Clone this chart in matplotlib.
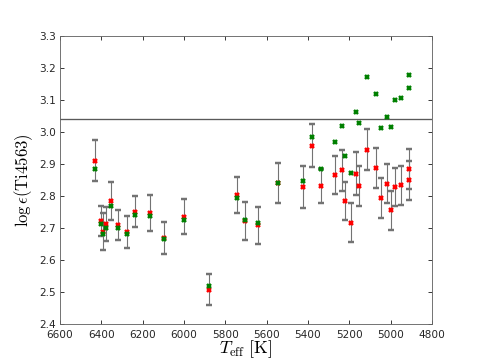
import matplotlib
matplotlib.use('Agg')
import matplotlib.pyplot as plt

# effective temperatures [K]
teff = [6431, 6403, 6392, 6379, 6353, 6321, 6276, 6237, 6166, 6098,
        6001, 5879, 5745, 5705, 5643, 5544, 5426, 5379, 5339, 5269,
        5234, 5221, 5193, 5166, 5153, 5113, 5073, 5048, 5019, 4998,
        4977, 4950, 4913, 4913]
# red series with error bars
ti_red = [2.910, 2.722, 2.688, 2.712, 2.784, 2.708, 2.688, 2.751, 2.746, 2.669,
          2.735, 2.507, 2.803, 2.722, 2.709, 2.840, 2.828, 2.957, 2.831, 2.865,
          2.881, 2.784, 2.717, 2.870, 2.832, 2.945, 2.888, 2.793, 2.839, 2.756,
          2.829, 2.833, 2.885, 2.849]
ti_err = [0.064, 0.046, 0.058, 0.054, 0.059, 0.047, 0.049, 0.048, 0.056, 0.050,
          0.055, 0.049, 0.055, 0.058, 0.058, 0.062, 0.066, 0.067, 0.053, 0.060,
          0.064, 0.060, 0.061, 0.068, 0.062, 0.064, 0.062, 0.063, 0.062, 0.061,
          0.060, 0.061, 0.062, 0.061]
# green series
ti_green = [2.885, 2.713, 2.680, 2.701, 2.770, 2.699, 2.681, 2.742, 2.737, 2.666,
            2.726, 2.518, 2.795, 2.724, 2.716, 2.840, 2.847, 2.985, 2.883, 2.969,
            3.019, 2.925, 2.873, 3.062, 3.029, 3.171, 3.118, 3.013, 3.048, 3.017,
            3.099, 3.107, 3.177, 3.137]
ref_level = 3.04

plt.rcParams['mathtext.fontset'] = 'cm'
plt.rcParams['xtick.direction'] = 'in'
plt.rcParams['ytick.direction'] = 'in'
plt.rcParams['xtick.top'] = True
plt.rcParams['ytick.right'] = True

fig = plt.figure(figsize=(6, 4.5), dpi=80)
ax = fig.add_axes([0.125, 0.1, 0.775, 0.8])

ax.errorbar(teff, ti_red, yerr=ti_err, fmt='x', color='red', ms=4, mew=2.2,
            ecolor='0.45', elinewidth=1, capsize=3, capthick=1, zorder=2)
ax.plot(teff, ti_green, 'x', color='green', ms=4, mew=2.2, zorder=3)
ax.axhline(ref_level, color='0.35', lw=1.2, zorder=1)

ax.set_xlim(6600, 4800)
ax.set_ylim(2.4, 3.3)
ax.set_xticks(range(6600, 4799, -200))
ax.set_yticks([2.4 + 0.1 * i for i in range(10)])
ax.tick_params(labelsize=9.5, colors='0.15', length=4)
ax.tick_params(axis='x', pad=5)
for s in ax.spines.values():
    s.set_color('0.4')

ax.set_xlabel(r'$T_{\rm eff}\ [{\rm K}]$', fontsize=16, labelpad=-1)
ax.set_ylabel(r'$\log\epsilon({\rm Ti4563})$', fontsize=15)

fig.savefig('out.png', dpi=80, facecolor='white')
